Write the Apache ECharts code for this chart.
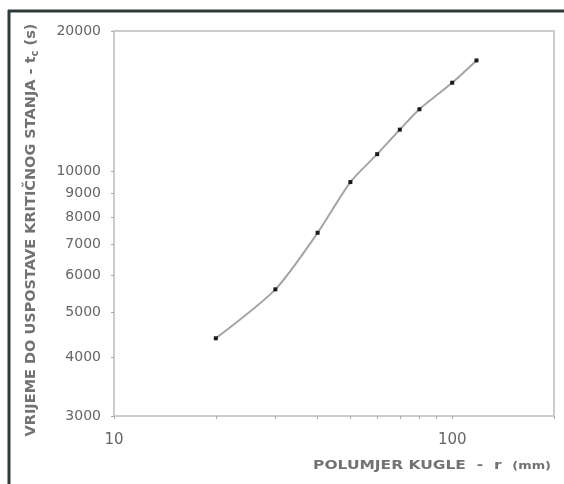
<!DOCTYPE html>
<html>
<head>
<meta charset="utf-8">
<script src="https://cdn.jsdelivr.net/npm/echarts@6/dist/echarts.min.js"></script>
<style>html,body{margin:0;padding:0;background:#fff}#c{width:564px;height:484px}</style>
</head>
<body>
<div id="c"></div>
<script>
// Data (radius r in mm, time t_c in s)
const radius = [20, 30, 40, 50, 60, 70, 80, 100, 118];
const timeTc = [4400, 5600, 7400, 9500, 10900, 12300, 13600, 15500, 17300];
const xTickValues = [10, 20, 30, 40, 50, 60, 70, 80, 90, 100, 200];
const xLabelValues = [10, 100];
const yTickValues = [3000, 4000, 5000, 6000, 7000, 8000, 9000, 10000, 20000];
const xRange = [10, 200];
const yRange = [3000, 20000];
const yTitle = 'VRIJEME DO USPOSTAVE KRITIČNOG STANJA - t';
const yTitleSub = 'c';
const yTitleUnit = ' (s)';
const xTitle = 'POLUMJER KUGLE  -  r  ';
const xTitleUnit = '(mm)';

const FF = 'DejaVu Sans, Liberation Sans, sans-serif';
const L = Math.log10;
const pts = radius.map((r, i) => [L(r), L(timeTc[i])]);
const fmt = v => String(Math.round(Math.pow(10, v)));

const chart = echarts.init(document.getElementById('c'), null, {renderer: 'canvas'});
chart.setOption({
  animation: false,
  backgroundColor: '#fff',
  textStyle: {fontFamily: FF},
  grid: {left: 114, top: 31, right: 10, bottom: 68, show: true, borderColor: '#cccccc', borderWidth: 2, backgroundColor: 'transparent'},
  xAxis: {
    type: 'value', min: L(xRange[0]), max: L(xRange[1]),
    axisLine: {show: false},
    splitLine: {show: false},
    axisTick: {show: true, customValues: xTickValues.map(L), length: 3, inside: false, lineStyle: {color: '#aaa', width: 1}},
    axisLabel: {customValues: xLabelValues.map(L), formatter: fmt, margin: 17, fontSize: 15, color: '#666', fontFamily: FF}
  },
  yAxis: {
    type: 'value', min: L(yRange[0]), max: L(yRange[1]),
    axisLine: {show: false},
    splitLine: {show: false},
    axisTick: {show: true, customValues: yTickValues.map(L), length: 3, inside: false, lineStyle: {color: '#aaa', width: 1}},
    axisLabel: {customValues: yTickValues.map(L), formatter: fmt, margin: 13, fontSize: 14, color: '#666', fontFamily: FF}
  },
  series: [{
    type: 'line',
    data: pts,
    smooth: 0.25,
    symbol: 'rect',
    symbolSize: 4,
    lineStyle: {color: '#a4a4a4', width: 2},
    itemStyle: {color: '#1a1a1a'}
  }],
  graphic: [
    {type: 'line', shape: {x1: 8, y1: 11, x2: 564, y2: 11}, style: {stroke: '#2f3b3b', lineWidth: 3}},
    {type: 'line', shape: {x1: 9, y1: 10, x2: 9, y2: 484}, style: {stroke: '#2f3b3b', lineWidth: 3}},
    {type: 'text', x: 31, y: 230, rotation: Math.PI / 2,
     style: {
       text: '{m|' + yTitle + '}{s|' + yTitleSub + '}{m|' + yTitleUnit + '}',
       align: 'center', verticalAlign: 'middle',
       rich: {
         m: {fontSize: 14.5, fontWeight: 'bold', fill: '#727272', fontFamily: FF},
         s: {fontSize: 10, fontWeight: 'bold', fill: '#727272', fontFamily: FF, padding: [8, 0, 0, 0]}
       }
     }},
    {type: 'text', x: 551, y: 466, scaleX: 1.29, scaleY: 1,
     style: {
       text: '{m|' + xTitle + '}{u|' + xTitleUnit + '}',
       align: 'right', verticalAlign: 'middle',
       rich: {
         m: {fontSize: 12, fontWeight: 'bold', fill: '#727272', fontFamily: FF},
         u: {fontSize: 10, fontWeight: 'bold', fill: '#727272', fontFamily: FF}
       }
     }}
  ]
});
</script>
</body>
</html>
